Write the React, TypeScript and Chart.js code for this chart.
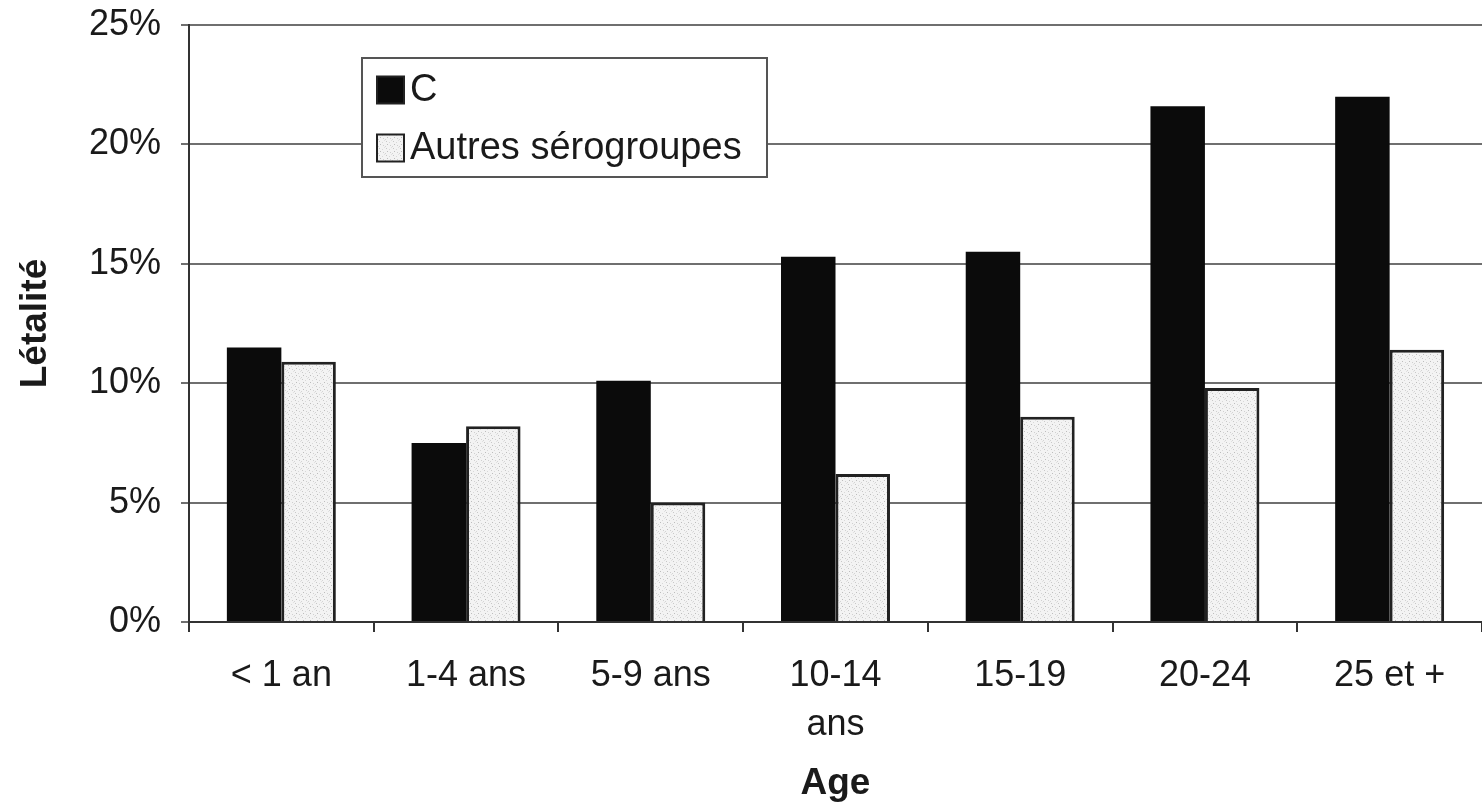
import React, { useEffect, useRef } from "react";
import { Chart, registerables } from "chart.js";

Chart.register(...registerables);

const categories: (string | string[])[] = ["< 1 an", "1-4 ans", "5-9 ans", ["10-14", "ans"], "15-19", "20-24", "25 et +"];
const seriesLabels = ["C", "Autres sérogroupes"];
const valuesC = [11.5, 7.5, 10.1, 15.3, 15.5, 21.6, 22.0];
const valuesAutres = [10.9, 8.2, 5.0, 6.2, 8.6, 9.8, 11.4];
const yTicks = [0, 5, 10, 15, 20, 25];

const FONT = "'Liberation Sans', Arial, sans-serif";

function makeSpeckle(): CanvasPattern | string {
  const c = document.createElement("canvas");
  c.width = 7;
  c.height = 7;
  const ctx = c.getContext("2d");
  if (!ctx) return "#eeeeee";
  ctx.fillStyle = "#f3f3f3";
  ctx.fillRect(0, 0, 7, 7);
  const dots: [number, number, string][] = [
    [1, 1, "#c8c8c8"], [4, 2, "#d8d8d8"], [2, 4, "#bdbdbd"], [5, 5, "#d0d0d0"], [6, 0, "#e0e0e0"], [0, 6, "#d4d4d4"],
  ];
  dots.forEach(([x, y, col]) => {
    ctx.fillStyle = col;
    ctx.fillRect(x, y, 1, 1);
  });
  return ctx.createPattern(c, "repeat") || "#eeeeee";
}

const insideLegend = {
  id: "insideLegend",
  afterDraw(chart: any) {
    const ctx = chart.ctx as CanvasRenderingContext2D;
    const x0 = 362, y0 = 58, w = 405, h = 119;
    ctx.save();
    ctx.fillStyle = "#ffffff";
    ctx.fillRect(x0, y0, w, h);
    ctx.strokeStyle = "#555555";
    ctx.lineWidth = 2;
    ctx.strokeRect(x0, y0, w, h);
    const rows = [90, 148];
    chart.data.datasets.forEach((ds: any, i: number) => {
      const cy = rows[i];
      const s = 27;
      ctx.fillStyle = ds.backgroundColor;
      ctx.fillRect(377, cy - s / 2, s, s);
      ctx.strokeStyle = "#222222";
      ctx.lineWidth = 2;
      ctx.strokeRect(377, cy - s / 2, s, s);
      ctx.fillStyle = "#1a1a1a";
      ctx.font = `38px ${FONT}`;
      ctx.textBaseline = "middle";
      ctx.textAlign = "left";
      ctx.fillText(ds.label, 410, cy + 1);
    });
    ctx.restore();
  },
};

export default function App() {
  const ref = useRef<HTMLCanvasElement | null>(null);
  useEffect(() => {
    if (!ref.current) return;
    const speckle = makeSpeckle();
    const chart = new Chart(ref.current, {
      type: "bar",
      data: {
        labels: categories,
        datasets: [
          {
            label: seriesLabels[0],
            data: valuesC,
            backgroundColor: "#0b0b0b",
            borderColor: "#0b0b0b",
            borderWidth: 0,
            categoryPercentage: 0.59,
            barPercentage: 1.0,
          },
          {
            label: seriesLabels[1],
            data: valuesAutres,
            backgroundColor: speckle as any,
            borderColor: "#222222",
            borderWidth: 3,
            categoryPercentage: 0.59,
            barPercentage: 1.0,
          },
        ],
      },
      options: {
        animation: false,
        responsive: true,
        maintainAspectRatio: false,
        layout: { padding: { top: 25, left: 0, right: 0, bottom: 0 } },
        plugins: {
          legend: { display: false },
          tooltip: { enabled: false },
        },
        scales: {
          x: {
            offset: true,
            grid: {
              offset: true,
              drawOnChartArea: false,
              drawTicks: true,
              tickLength: 10,
              color: "#333333",
              lineWidth: 2,
            },
            border: { display: true, color: "#333333", width: 2 },
            ticks: {
              padding: 19,
              color: "#1a1a1a",
              font: { family: FONT, size: 36, lineHeight: 1.37 },
              maxRotation: 0,
              autoSkip: false,
            },
            title: {
              display: true,
              text: "Age",
              color: "#1a1a1a",
              font: { family: FONT, size: 37, weight: "bold" },
              padding: { top: 0, bottom: 0 },
            },
            afterFit: (s: any) => {
              s.height = 184;
            },
          },
          y: {
            min: 0,
            max: 25,
            afterBuildTicks: (s: any) => {
              s.ticks = yTicks.map((v) => ({ value: v }));
            },
            ticks: {
              padding: 20,
              color: "#1a1a1a",
              font: { family: FONT, size: 36, lineHeight: 0.2 },
              callback: (v: any) => `${v}%`,
            },
            grid: {
              color: "#6f6f6f",
              lineWidth: 2,
              drawTicks: true,
              tickLength: 8,
            },
            border: { display: true, color: "#333333", width: 2 },
            title: {
              display: true,
              text: "Létalité",
              color: "#1a1a1a",
              font: { family: FONT, size: 37, weight: "bold" },
              padding: { top: 14, bottom: 0 },
            },
            afterFit: (s: any) => {
              s.width = 189;
            },
          },
        },
      },
      plugins: [insideLegend],
    });
    return () => chart.destroy();
  }, []);
  return (
    <div style={{ position: "absolute", left: 0, top: 0, width: 1482, height: 806, background: "#ffffff" }}>
      <canvas ref={ref} />
    </div>
  );
}
